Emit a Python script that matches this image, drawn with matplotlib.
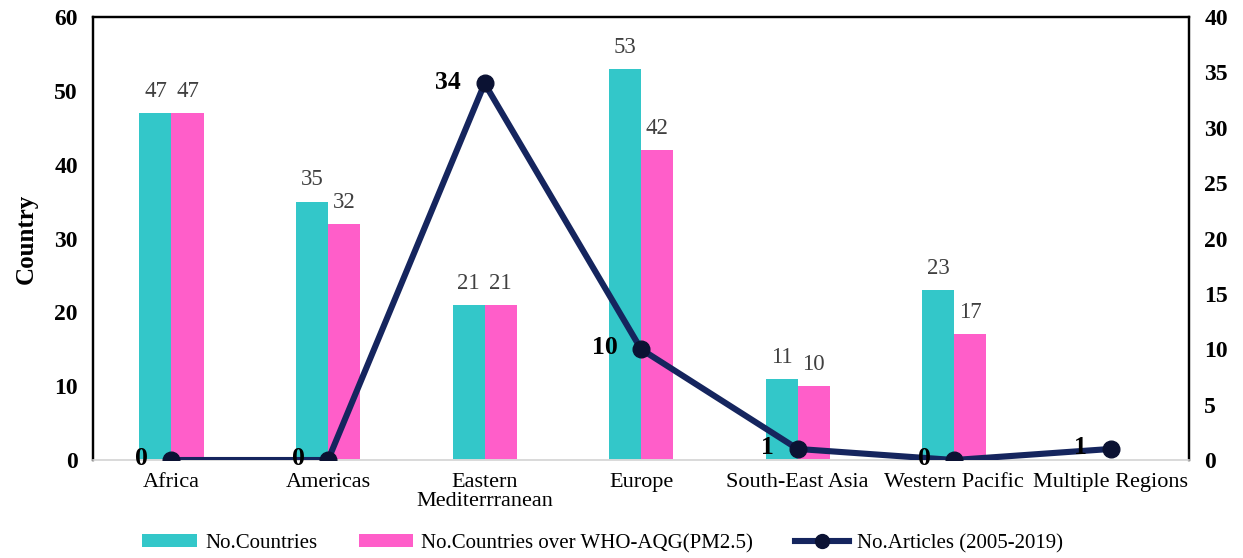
import matplotlib
matplotlib.use("Agg")
import matplotlib.pyplot as plt
import numpy as np
from matplotlib.patches import Patch
from matplotlib.lines import Line2D

regions = ["Africa", "Americas", "Eastern\nMediterrranean", "Europe",
           "South-East Asia", "Western Pacific", "Multiple Regions"]
n_countries = [47, 35, 21, 53, 11, 23, np.nan]
n_over_aqg = [47, 32, 21, 42, 10, 17, np.nan]
n_articles = [0, 0, 34, 10, 1, 0, 1]

TEAL = "#33c7c9"
PINK = "#ff5ec9"
NAVY = "#15255e"
SERIF = "Liberation Serif"

plt.rcParams["font.family"] = [SERIF, "DejaVu Serif"]

fig = plt.figure(figsize=(12.43, 5.58), dpi=100)
ax = fig.add_axes([0.075, 0.1756, 0.8816, 0.7939])
ax2 = ax.twinx()

x = np.arange(len(regions))
w = 0.205
b1 = ax.bar(x - w / 2, n_countries, w, color=TEAL, zorder=2)
b2 = ax.bar(x + w / 2, n_over_aqg, w, color=PINK, zorder=2)
for bars, vals in ((b1, n_countries), (b2, n_over_aqg)):
    for rect, v in zip(bars, vals):
        if np.isnan(v):
            continue
        ax.annotate(f"{v:.0f}", (rect.get_x() + rect.get_width() / 2, v),
                    xytext=(0, 8), textcoords="offset points", ha="center",
                    va="bottom", fontsize=16.5, color="#404040")

ax.set_xlim(-0.5, len(regions) - 0.5)
ax.set_ylim(0, 60)
ax.set_yticks(range(0, 61, 10))
ax.set_xticks(x)
ax.set_xticklabels(regions, fontsize=16, linespacing=1.0)
ax.tick_params(axis="x", length=0, pad=9)
ax.tick_params(axis="y", length=0, pad=11, labelsize=17)
for lab in ax.get_yticklabels():
    lab.set_fontweight("bold")
ax.set_ylabel("Country", fontsize=18, fontweight="bold", labelpad=12)

ax2.plot(x, n_articles, color=NAVY, lw=4.4, marker="o", markersize=12,
         markerfacecolor="#0b1233", markeredgecolor="#0b1233", zorder=3,
         solid_joinstyle="miter")
for xi, v in zip(x, n_articles):
    ax2.annotate(f"{v}", (xi, v), xytext=(-17, 1), textcoords="offset points",
                 ha="right", va="center", fontsize=18.5, fontweight="bold",
                 color="black")
ax2.set_ylim(0, 40)
ax2.set_yticks(range(0, 41, 5))
ax2.tick_params(axis="y", length=0, pad=11, labelsize=17)
for lab in ax2.get_yticklabels():
    lab.set_fontweight("bold")

for a in (ax, ax2):
    for side in ("left", "right", "top"):
        a.spines[side].set_color("black")
        a.spines[side].set_linewidth(1.6)
    a.spines["bottom"].set_color("#d9d9d9")
    a.spines["bottom"].set_linewidth(1.2)

handles = [
    Patch(facecolor=TEAL, label="No.Countries"),
    Patch(facecolor=PINK, label="No.Countries over WHO-AQG(PM2.5)"),
    Line2D([0], [0], color=NAVY, lw=4.4, marker="o", markersize=10,
           markerfacecolor="#0b1233", markeredgecolor="#0b1233",
           label="No.Articles (2005-2019)"),
]
fig.legend(handles=handles, loc="center", bbox_to_anchor=(0.485, 0.026),
           ncol=3, frameon=False, fontsize=15, handlelength=2.6,
           handleheight=0.55, columnspacing=2.0, handletextpad=0.4)

fig.savefig("out.png", dpi=100)
